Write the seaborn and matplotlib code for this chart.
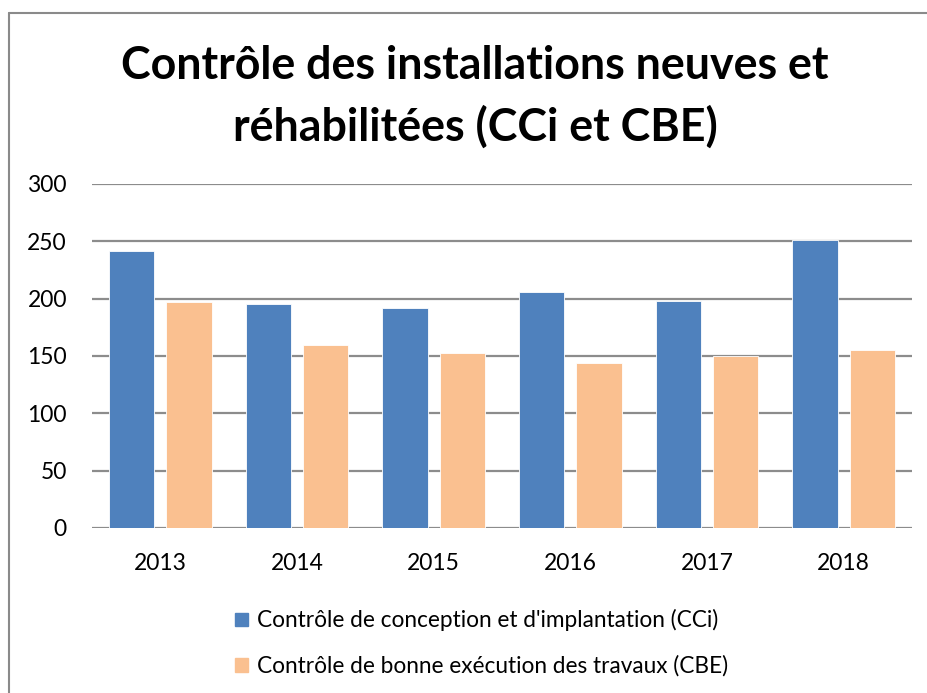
import matplotlib
matplotlib.use('Agg')
import matplotlib.pyplot as plt
from matplotlib.lines import Line2D
import pandas as pd
import seaborn as sns

# data
years = ['2013', '2014', '2015', '2016', '2017', '2018']
cci = [242, 195, 192, 206, 198, 251]
cbe = [197, 160, 153, 144, 150, 155]
series_names = ["Contrôle de conception et d'implantation (CCi)",
                "Contrôle de bonne exécution des travaux (CBE)"]
colors = ['#4F81BD', '#FAC090']

df = pd.DataFrame({'year': years, series_names[0]: cci, series_names[1]: cbe})
long_df = df.melt(id_vars='year', var_name='serie', value_name='nb')

sns.set_style('white')
plt.rcParams['font.family'] = ['Lato', 'DejaVu Sans']
plt.rcParams['text.color'] = 'black'

W, H = 928, 693
fig = plt.figure(figsize=(W / 100, H / 100), dpi=100)
ax = fig.add_axes([92 / W, (H - 528) / H, 820 / W, 344 / H])

sns.barplot(data=long_df, x='year', y='nb', hue='serie', palette=colors,
            saturation=1, width=0.84, gap=0.21, ax=ax, edgecolor='white',
            linewidth=0.6, legend=False, zorder=3)

ax.set_ylim(0, 300)
ax.set_yticks(range(0, 301, 50))
ax.yaxis.grid(True, color='#8c8c8c', linewidth=1.6, zorder=0)
ax.set_axisbelow(True)
for s in ax.spines.values():
    s.set_visible(False)
ax.tick_params(axis='both', length=0, labelsize=16.5, colors='black')
ax.tick_params(axis='y', pad=18)
ax.tick_params(axis='x', pad=18)
ax.set_xlabel('')
ax.set_ylabel('')

# title
fig.text(475 / W, 1 - 97 / H, 'Contrôle des installations neuves et\nréhabilitées (CCi et CBE)',
         ha='center', va='center', fontsize=32.2, fontweight='bold', linespacing=1.5,
         color='black')

# legend
handles = [plt.Rectangle((0, 0), 1, 1, color=c) for c in colors]
fig.legend(handles, series_names, loc='upper left', bbox_to_anchor=(215 / W, 1 - 589 / H),
           frameon=False, fontsize=16.3, handlelength=0.55, handleheight=0.55,
           handletextpad=0.4, labelspacing=1.05, labelcolor='black')

# outer chart frame (cropped at right and bottom)
frame_kw = dict(color='#8a8a8a', linewidth=1.5, transform=fig.transFigure)
fig.add_artist(Line2D([9 / W, 9 / W], [0, 1 - 13 / H], **frame_kw))
fig.add_artist(Line2D([9 / W, 1], [1 - 13 / H, 1 - 13 / H], **frame_kw))

fig.savefig('out.png', dpi=100)
